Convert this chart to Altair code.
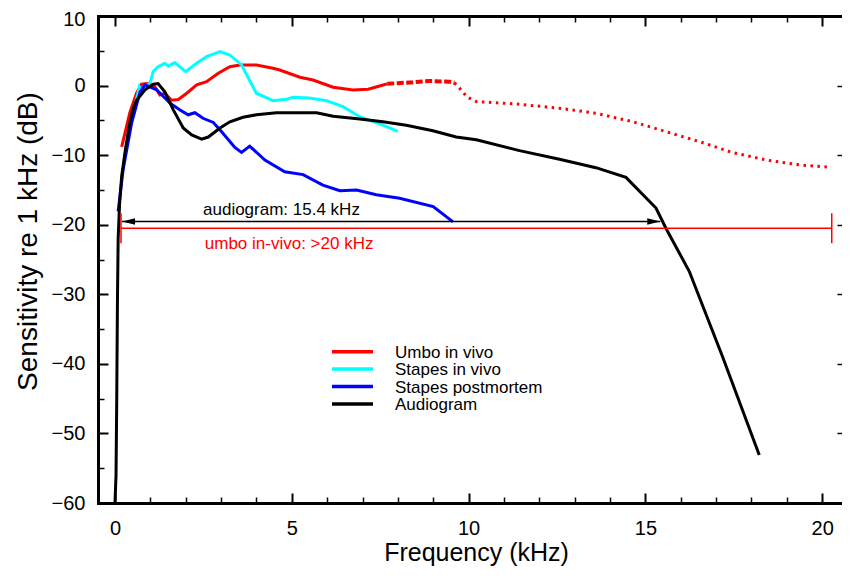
import altair as alt
import pandas as pd

FONT = "Liberation Sans"

# ---------------- data ----------------
series_names = ["Umbo in vivo", "Stapes in vivo", "Stapes postmortem", "Audiogram"]
series_colors = ["#ff0000", "#00ffff", "#0000ff", "#000000"]

umbo_f = [0.19, 0.42, 0.61, 0.75, 0.94, 1.13, 1.27, 1.41, 1.6, 1.79, 2.03, 2.31, 2.59,
          2.92, 3.25, 3.53, 4.0, 4.47, 4.66, 5.23, 5.6, 6.17, 6.73, 7.16, 7.58, 7.7]
umbo_db = [-8.8, -3.9, -1.1, 0.2, 0.3, -0.2, -1.35, -1.1, -2.1, -2.0, -1.1, 0.1, 0.56,
           1.77, 2.7, 2.96, 2.96, 2.5, 2.24, 1.2, 0.8, -0.24, -0.63, -0.53, 0.09, 0.25]

umbo_dash_f = [7.7, 8.0, 8.43, 8.9, 9.46, 9.6]
umbo_dash_db = [0.25, 0.35, 0.47, 0.66, 0.56, 0.4]

umbo_dot_f = [9.6, 9.84, 9.94, 10.22, 11.35, 12.57, 13.6, 14.64, 15.58, 16.53, 17.47,
              18.41, 19.35, 20.2]
umbo_dot_db = [0.4, -0.9, -1.6, -2.3, -2.64, -3.26, -3.98, -5.19, -6.62, -8.06, -9.64,
               -10.69, -11.4, -11.74]

stapes_f = [0.47, 0.56, 0.69, 0.75, 0.99, 1.08, 1.22, 1.41, 1.51, 1.69, 2.0, 2.31, 2.59,
            2.97, 3.25, 3.58, 4.0, 4.47, 4.85, 5.04, 5.5, 5.98, 6.45, 6.92, 7.49, 8.0]
stapes_db = [-5.4, -3.0, -0.16, -0.63, 0.33, 2.0, 2.7, 3.2, 2.8, 3.3, 2.0, 3.2, 4.15,
             4.87, 4.4, 2.96, -1.1, -2.17, -1.97, -1.68, -1.8, -2.17, -3.03, -4.47, -5.5, -6.6]

post_f = [0.09, 0.23, 0.47, 0.71, 0.85, 1.18, 1.55, 1.84, 2.07, 2.26, 2.49, 2.78, 3.01,
          3.39, 3.58, 3.81, 4.24, 4.8, 5.32, 5.88, 6.36, 6.83, 7.39, 8.05, 9.0, 9.56]
post_db = [-18.1, -12.1, -5.4, -0.9, 0.1, -0.6, -2.5, -3.5, -4.2, -3.9, -4.7, -5.3, -6.6,
           -8.9, -9.6, -8.7, -10.7, -12.4, -12.8, -14.3, -15.1, -15.0, -15.7, -16.2, -17.4, -19.6]

audio_f = [0.0, 0.03, 0.05, 0.07, 0.09, 0.13, 0.19, 0.3, 0.42, 0.52, 0.61, 0.85, 1.08,
           1.22, 1.41, 1.65, 1.93, 2.17, 2.45, 2.64, 2.97, 3.25, 3.62, 4.0, 4.57, 5.7,
           6.17, 6.92, 7.58, 8.24, 8.99, 9.65, 10.22, 11.44, 12.57, 13.6, 14.45, 15.3,
           15.58, 16.24, 17.18, 18.22]
audio_db = [-60, -56, -45, -31, -22, -17, -13, -9, -5.3, -3.3, -2.1, -0.6, 0.2,
            0.3, -0.9, -3.5, -6.1, -7.1, -7.7, -7.4, -6.1, -5.2, -4.55, -4.2, -3.9, -3.9,
            -4.4, -4.8, -5.2, -5.7, -6.5, -7.4, -7.8, -9.35, -10.6, -11.8, -13.2, -17.6,
            -20.5, -26.7, -38.95, -53.1]

# annotations
arrow_f = [0.2, 15.42]
arrow_db = -19.55
range_f = [0.17, 20.27]
range_db = -20.5
range_cap = [-18.35, -22.66]
ann_labels = ["audiogram: 15.4 kHz", "umbo in-vivo: >20 kHz"]
ann_f = [2.49, 2.54]
ann_db = [-18.6, -23.5]
ann_colors = ["#000000", "#ff0000"]

x_major = [0, 5, 10, 15, 20]
x_minor = [1, 2, 3, 4, 6, 7, 8, 9, 11, 12, 13, 14, 16, 17, 18, 19]
y_major = [-60, -50, -40, -30, -20, -10, 0, 10]
y_minor = [-55, -45, -35, -25, -15, -5, 5]

X_DOMAIN = [-0.48, 20.56]
Y_DOMAIN = [-60, 10]

# ---------------- helpers ----------------
xs = alt.Scale(domain=X_DOMAIN, nice=False, zero=False)
ys = alt.Scale(domain=Y_DOMAIN, nice=False, zero=False)
cscale = alt.Scale(domain=series_names, range=series_colors)


def tick_axis(orient, values, size, domain=False):
    kw = dict(orient=orient, values=values, labels=False, domain=domain, grid=False,
              title=None, tickSize={"expr": str(-size)}, tickColor="black",
              tickWidth=2 if size >= 8 else 1.5)
    if domain:
        kw.update(domainWidth=3, domainColor="black", domainCap="square")
    return alt.Axis(**kw)


def frame(name, f, db):
    return pd.DataFrame({"f": f, "db": db, "series": [name] * len(f)})


# ---------------- layers ----------------
main_x_axis = alt.Axis(orient="bottom", values=x_major, ticks=False, domain=True,
                       domainWidth=3, domainColor="black", domainCap="square",
                       labelFontSize=20, labelPadding=15, labelColor="black",
                       labelFont=FONT, labelFlush=False, labelOverlap=False,
                       title="Frequency (kHz)", titleFontSize=25, titleFont=FONT,
                       titleFontWeight="normal", titleColor="black", titleY=57,
                       titleX=378, titleBaseline="alphabetic", grid=False)
main_y_axis = alt.Axis(orient="left", values=y_major, ticks=False, domain=True,
                       domainWidth=3, domainColor="black", domainCap="square",
                       labelFontSize=20, labelPadding=13, labelColor="black",
                       labelFont=FONT, labelFlush=False, labelOverlap=False,
                       labelOffset={"condition": {"test": "datum.value == 10", "value": 3},
                                    "value": 0},
                       title="Sensitivity re 1 kHz (dB)", titleFontSize=28,
                       titleFont=FONT, titleFontWeight="normal", titleColor="black",
                       titleAngle=270, titleX=-62, titleY=225, titleAlign="center",
                       titleBaseline="alphabetic", grid=False)

lines = []
datasets = [(series_names[0], umbo_f, umbo_db), (series_names[1], stapes_f, stapes_db),
            (series_names[2], post_f, post_db), (series_names[3], audio_f, audio_db)]
for i, (name, f, db) in enumerate(datasets):
    xa = main_x_axis if i == 0 else None
    ya = main_y_axis if i == 0 else None
    lines.append(
        alt.Chart(frame(name, f, db)).mark_line(strokeWidth=3, clip=False).encode(
            x=alt.X("f:Q", scale=xs, axis=xa),
            y=alt.Y("db:Q", scale=ys, axis=ya),
            color=alt.Color("series:N", scale=cscale, legend=None),
        )
    )

umbo_dash = alt.Chart(frame("dash", umbo_dash_f, umbo_dash_db)).mark_line(
    strokeWidth=4, color="#ff0000", strokeDash=[7, 2.5]).encode(
    x=alt.X("f:Q", scale=xs, axis=tick_axis("bottom", x_major, 10)),
    y=alt.Y("db:Q", scale=ys, axis=tick_axis("left", y_major, 10)),
)
umbo_dot = alt.Chart(frame("dot", umbo_dot_f, umbo_dot_db)).mark_line(
    strokeWidth=3, color="#ff0000", strokeDash=[2.5, 4.5]).encode(
    x=alt.X("f:Q", scale=xs, axis=tick_axis("bottom", x_minor, 6)),
    y=alt.Y("db:Q", scale=ys, axis=tick_axis("left", y_minor, 6)),
)

arrow_df = pd.DataFrame({"f1": [arrow_f[0]], "f2": [arrow_f[1]], "db": [arrow_db]})
arrow_line = alt.Chart(arrow_df).mark_rule(color="black", strokeWidth=1.5).encode(
    x=alt.X("f1:Q", scale=xs, axis=tick_axis("top", x_major, 10, domain=True)),
    x2="f2:Q",
    y=alt.Y("db:Q", scale=ys, axis=tick_axis("right", y_major, 5)),
)
heads = pd.DataFrame({"f": arrow_f, "db": [arrow_db, arrow_db],
                      "shape": ["M0,0L2,-0.5L2,0.5Z", "M0,0L-2,-0.5L-2,0.5Z"]})
arrow_heads = alt.Chart(heads).mark_point(filled=True, size=169, color="black",
                                          opacity=1, strokeWidth=0).encode(
    x=alt.X("f:Q", scale=xs, axis=None),
    y=alt.Y("db:Q", scale=ys, axis=None),
    shape=alt.Shape("shape:N", scale=None),
)

range_df = pd.DataFrame({"f1": [range_f[0]], "f2": [range_f[1]], "db": [range_db]})
range_line = alt.Chart(range_df).mark_rule(color="#ff0000", strokeWidth=1.5).encode(
    x=alt.X("f1:Q", scale=xs, axis=tick_axis("top", x_minor, 6)),
    x2="f2:Q",
    y=alt.Y("db:Q", scale=ys, axis=None),
)
caps_df = pd.DataFrame({"f": range_f, "y1": [range_cap[0]] * 2, "y2": [range_cap[1]] * 2})
range_caps = alt.Chart(caps_df).mark_rule(color="#ff0000", strokeWidth=1.5).encode(
    x=alt.X("f:Q", scale=xs, axis=None),
    y=alt.Y("y1:Q", scale=ys, axis=None),
    y2="y2:Q",
)

ann_df = pd.DataFrame({"f": ann_f, "db": ann_db, "label": ann_labels, "c": ann_colors})
ann_text = alt.Chart(ann_df).mark_text(align="left", baseline="alphabetic", fontSize=17,
                                       font=FONT).encode(
    x=alt.X("f:Q", scale=xs, axis=None),
    y=alt.Y("db:Q", scale=ys, axis=None),
    text="label:N",
    color=alt.Color("c:N", scale=None),
)

# legend (drawn as a key box inside the plot)
legend_layers = []
for i, (name, col) in enumerate(zip(series_names, series_colors)):
    yy = 335.7 + 17.4 * i
    legend_layers.append(
        alt.Chart().mark_rule(strokeWidth=3.5, color=col).encode(
            x=alt.value(234), x2=alt.value(275), y=alt.value(yy))
    )
    legend_layers.append(
        alt.Chart().mark_text(align="left", baseline="alphabetic", fontSize=17,
                              font=FONT, color="black").encode(
            x=alt.value(297), y=alt.value(yy + 6), text=alt.value(name))
    )

chart = alt.layer(
    *lines, umbo_dash, umbo_dot, arrow_line, arrow_heads, range_line, range_caps,
    ann_text, *legend_layers
).resolve_axis(x="independent", y="independent").properties(
    width=744, height=487,
    padding={"left": 90, "top": 8, "right": 0, "bottom": 63},
    autosize=alt.AutoSizeParams(type="none"),
    background="white",
).configure_view(strokeWidth=0).configure(font=FONT)

chart.save("out.html", embed_options={"renderer": "svg", "actions": False})
